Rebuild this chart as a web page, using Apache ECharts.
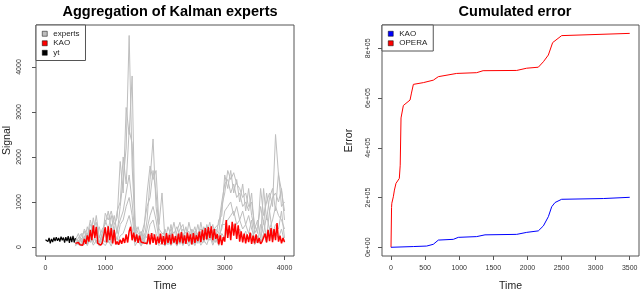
<!DOCTYPE html>
<html><head><meta charset="utf-8">
<script src="https://cdn.jsdelivr.net/npm/echarts@6/dist/echarts.min.js"></script>
<style>html,body{margin:0;padding:0;background:#fff}#c{width:640px;height:291px}</style>
</head><body><div id="c"></div>
<script>
// ---------- Left chart: Aggregation of Kalman experts ----------
const signalTicks = [0, 1000, 2000, 3000, 4000];
const timeTicksLeft = [0, 1000, 2000, 3000, 4000];
const expertStart = 500, expertStep = 50;
const expert1 = [150,300,100,400,250,600,300,700,200,400, 500,800,400,700,300,900,1500,2200,4700,1800, 400,200,350,150,600,1500,2400,900,300,200, 400,150,500,100,350,550,200,450,100,400, 200,500,150,450,300,550,250,400,300,900, 1200,1700,1500,1650,1400,1300,1100,1200,900,1000, 500,300,1300,700,1000,1200,900,2500,1600,1250, 800];
const expert2 = [50,200,300,150,450,200,650,250,450,150, 750,600,800,500,650,1900,1200,3100,2500,3800, 300,450,150,400,1200,1800,1500,1700,500,1200, 150,450,250,550,200,400,500,150,550,250, 450,150,550,200,500,300,500,200,600,700, 1600,1300,1700,1200,1500,1000,1400,800,1300,700, 400,600,200,1300,600,1100,1300,800,1650,900, 1000];
const expert3 = [200,100,250,350,100,500,400,550,100,300, 600,400,700,350,800,1000,2000,1400,2600,2300, 500,300,250,500,900,1100,1700,1200,400,300, 300,200,400,300,450,250,400,300,350,150, 350,300,400,350,450,400,350,450,500,1000, 1400,1500,1200,1400,1100,1200,900,1000,800,1200, 300,450,900,500,1200,800,1100,1200,1000,1300, 600];
const expert4 = [100,50,200,50,300,100,350,80,250,60, 400,100,500,150,400,600,800,1200,1600,1000, 200,100,300,80,400,700,900,600,150,100, 200,50,300,80,250,60,300,100,250,50, 300,80,350,100,400,150,350,100,250,400, 800,900,1000,700,900,600,800,500,700,400, 200,100,500,300,700,400,600,900,700,600, 400];
const expert5 = [30,150,40,250,60,300,100,400,50,200, 100,300,80,350,150,500,600,900,1100,700, 100,250,50,300,200,500,600,300,100,200, 50,250,80,200,60,300,50,250,80,200, 60,300,100,250,150,350,100,300,100,500, 500,600,700,800,500,600,400,500,300,600, 100,250,150,600,200,800,300,500,400,800, 200];
const expert6 = [20,100,20,150,30,200,40,150,20,100, 30,150,20,200,50,250,300,500,700,400, 30,150,20,150,50,250,300,150,30,100, 20,150,30,150,20,200,30,150,20,150, 30,200,40,150,50,250,40,200,30,300, 200,400,300,500,250,400,200,350,150,300, 50,150,80,300,100,400,150,300,200,400, 100];
const experts = [expert1, expert2, expert3, expert4, expert5, expert6];

const kaoStart = 500, kaoStep = 25;
const kaoSignal = [80,60,100,50, 90,40,180,70, 260,120,380,150, 480,200,450,80, 60,40,90,50,
  440,100,460,150, 420,80,380,60, 120,50,160,70, 200,90,280,100, 350,450,150,320,
  120,280,90,250, 110,130,90,120, 80,290,60,310, 90,280,50,230, 80,300,60,240,
  50,310,90,270, 60,290,100,240, 60,300,100,330, 80,260,70,320, 120,280,60,310,
  90,260,130,340, 110,380,150,420, 170,440,200,460, 150,400,180,290, 60,260,40,220,
  120,600,200,480, 150,560,250,520, 180,480,120,350, 100,300,80,280, 110,320,70,250,
  80,280,90,200, 70,120,80,300, 100,380,130,420, 110,400,150,530, 120,250,80,200, 110];

const ytStart = 0, ytStep = 20;
const ytSignal = [160,190,120,200,80,180,110,210,130,220,140,200,120,230,150,210,100,220,130,240,90,230,110,250,100,200];

// ---------- Right chart: Cumulated error ----------
const errorTicks = [0, 200000, 400000, 600000, 800000];
const timeTicksRight = [0, 500, 1000, 1500, 2000, 2500, 3000, 3500];
const operaTime = [0, 8, 12, 34, 50, 73, 122, 135, 147, 181, 279, 300, 328, 474, 621, 694, 963, 1256, 1350, 1843, 1989, 2160, 2234, 2307, 2370, 2502, 3500];
const operaErr = [0, 160000, 177000, 203000, 230000, 257000, 277000, 330000, 520000, 570000, 592000, 620000, 655000, 662000, 672000, 686000, 699000, 702000, 710000, 711000, 720000, 724000, 746000, 773000, 823000, 851000, 860000];
const kaoTime = [0, 327, 523, 620, 694, 914, 987, 1256, 1378, 1843, 1990, 2160, 2234, 2307, 2356, 2405, 2502, 3113, 3500];
const kaoErr = [0, 3000, 5000, 12000, 29000, 32000, 40000, 43000, 50000, 52000, 60000, 66000, 86000, 123000, 163000, 180000, 193000, 196000, 201000];

function seq(start, step, vals) { return vals.map((v, i) => [start + i * step, v]); }
function zip(ts, vs) { return ts.map((t, i) => [t, vs[i]]); }

const FONT = 'Liberation Sans, Arial, sans-serif';
const GRAY = '#bebebe';
const boxColor = '#555';

function sciLabel(v) {
  if (v === 0) return '0e+00';
  const e = Math.floor(Math.log10(Math.abs(v)));
  const m = Math.round(v / Math.pow(10, e));
  return m + 'e+' + String(e).padStart(2, '0');
}

const series = [];
experts.forEach(arr => series.push({
  name: 'experts', type: 'line', xAxisIndex: 0, yAxisIndex: 0, symbol: 'none',
  data: seq(expertStart, expertStep, arr), lineStyle: { color: GRAY, width: 1 }, itemStyle: { color: GRAY },
  silent: true, z: 1
}));
series.push({ name: 'yt', type: 'line', xAxisIndex: 0, yAxisIndex: 0, symbol: 'none',
  data: seq(ytStart, ytStep, ytSignal), lineStyle: { color: '#000', width: 1.2 }, itemStyle: { color: '#000' }, z: 2 });
series.push({ name: 'KAO', type: 'line', xAxisIndex: 0, yAxisIndex: 0, symbol: 'none',
  data: seq(kaoStart, kaoStep, kaoSignal), lineStyle: { color: '#ff0000', width: 1.5 }, itemStyle: { color: '#ff0000' }, z: 3 });
series.push({ name: 'OPERA', type: 'line', xAxisIndex: 1, yAxisIndex: 1, symbol: 'none',
  data: zip(operaTime, operaErr), lineStyle: { color: '#ff0000', width: 1 }, itemStyle: { color: '#ff0000' } });
series.push({ name: 'KAO', type: 'line', xAxisIndex: 1, yAxisIndex: 1, symbol: 'none',
  data: zip(kaoTime, kaoErr), lineStyle: { color: '#0000ff', width: 1 }, itemStyle: { color: '#0000ff' } });

function xAx(idx, min, max, ticks) {
  return { type: 'value', gridIndex: idx, min: min, max: max, position: 'bottom',
    axisLine: { show: false, onZero: false }, splitLine: { show: false },
    axisTick: { show: true, inside: false, length: 4, customValues: ticks, lineStyle: { color: boxColor } },
    axisLabel: { customValues: ticks, margin: 9, fontSize: 7, color: '#333', fontFamily: FONT, formatter: v => String(v) },
    name: 'Time', nameLocation: 'middle', nameGap: 25,
    nameTextStyle: { fontSize: 10.5, color: '#222', fontFamily: FONT } };
}
function yAx(idx, min, max, ticks, name, fmt, labelMargin, nameGap) {
  return { type: 'value', gridIndex: idx, min: min, max: max, position: 'left',
    axisLine: { show: false, onZero: false }, splitLine: { show: false },
    axisTick: { show: true, inside: false, length: 4, customValues: ticks, lineStyle: { color: boxColor } },
    axisLabel: { customValues: ticks, rotate: 90, margin: labelMargin, fontSize: 7, color: '#333', fontFamily: FONT, formatter: fmt },
    name: name, nameLocation: 'middle', nameGap: nameGap,
    nameTextStyle: { fontSize: 10.5, color: '#222', fontFamily: FONT } };
}

const legendCommon = {
  orient: 'vertical', icon: 'rect', itemWidth: 5, itemHeight: 5, itemGap: 0,
  borderColor: boxColor, borderWidth: 1, borderRadius: 0, padding: [4, 6, 3, 6],
  backgroundColor: '#fff', selectedMode: false,
  itemStyle: { borderColor: '#000', borderWidth: 0.5 },
  textStyle: { fontSize: 8, lineHeight: 9.5, color: '#222', fontFamily: FONT, padding: [0, 0, 0, 1] }
};

const option = {
  animation: false,
  backgroundColor: '#fff',
  title: [
    { text: 'Aggregation of Kalman experts', left: 165, top: -1, textAlign: 'center',
      textStyle: { fontSize: 14.5, fontWeight: 'bold', color: '#000', fontFamily: FONT } },
    { text: 'Cumulated error', left: 510, top: -1, textAlign: 'center',
      textStyle: { fontSize: 14.5, fontWeight: 'bold', color: '#000', fontFamily: FONT } }
  ],
  grid: [
    { left: 36, top: 25, width: 258, height: 231, show: true, borderColor: boxColor, borderWidth: 1, backgroundColor: 'transparent', outerBoundsMode: 'none', containLabel: false },
    { left: 382, top: 25, width: 257, height: 231, show: true, borderColor: boxColor, borderWidth: 1, backgroundColor: 'transparent', outerBoundsMode: 'none', containLabel: false }
  ],
  xAxis: [ xAx(0, -159, 4159, timeTicksLeft), xAx(1, -132, 3636, timeTicksRight) ],
  yAxis: [ yAx(0, -200, 4933, signalTicks, 'Signal', v => String(v), 13, 23),
           yAx(1, -35000, 893700, errorTicks, 'Error', sciLabel, 10, 27) ],
  legend: [
    Object.assign({}, legendCommon, { left: 36, top: 25,
      data: [ { name: 'experts', itemStyle: { color: GRAY } }, { name: 'KAO', itemStyle: { color: '#ff0000' } }, { name: 'yt', itemStyle: { color: '#000' } } ] }),
    Object.assign({}, legendCommon, { left: 382, top: 25,
      data: [ { name: 'KAO', itemStyle: { color: '#0000ff' } }, { name: 'OPERA', itemStyle: { color: '#ff0000' } } ] })
  ],
  series: series
};
const chart = echarts.init(document.getElementById('c'), null, { renderer: 'canvas' });
chart.setOption(option);
</script></body></html>
